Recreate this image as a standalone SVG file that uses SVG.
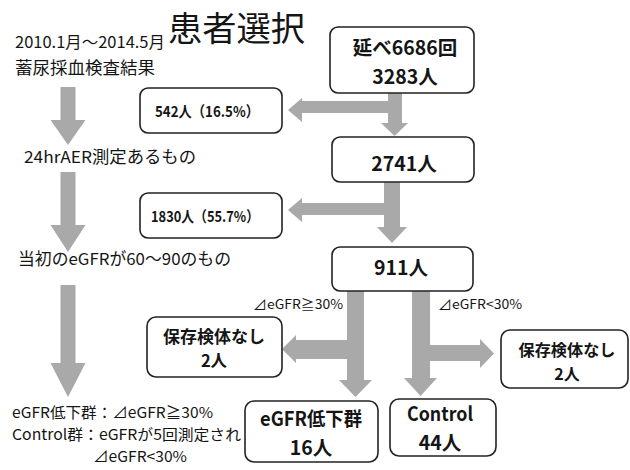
<svg xmlns="http://www.w3.org/2000/svg" width="630" height="470" viewBox="0 0 630 470">
<style>
text{font-family:"Noto Sans CJK JP","Noto Sans",sans-serif;fill:#151515}
.box{fill:#fff;stroke:#222;stroke-width:1.6}
.b{font-weight:bold}
.arr{fill:#a9a9a9}
</style>
<rect width="630" height="470" fill="#fff"/>
<text x="168" y="41" font-size="34" textLength="137" lengthAdjust="spacingAndGlyphs">患者選択</text>
<text x="15" y="48" font-size="15.5" textLength="150" lengthAdjust="spacingAndGlyphs">2010.1月～2014.5月</text>
<text x="15" y="74" font-size="16.5" textLength="140" lengthAdjust="spacingAndGlyphs">蓄尿採血検査結果</text>
<text x="24" y="163" font-size="16.5" textLength="172" lengthAdjust="spacingAndGlyphs">24hrAER測定あるもの</text>
<text x="18" y="265" font-size="16.5" textLength="213" lengthAdjust="spacingAndGlyphs">当初のeGFRが60～90のもの</text>
<text x="12" y="418" font-size="15" textLength="201" lengthAdjust="spacingAndGlyphs">eGFR低下群：⊿eGFR≧30%</text>
<text x="12" y="440" font-size="15" textLength="229" lengthAdjust="spacingAndGlyphs">Control群：eGFRが5回測定され</text>
<text x="93" y="462" font-size="15" textLength="94" lengthAdjust="spacingAndGlyphs">⊿eGFR&lt;30%</text>
<text x="253" y="309" font-size="13" textLength="90" lengthAdjust="spacingAndGlyphs">⊿eGFR≧30%</text>
<text x="438" y="309" font-size="13" textLength="84" lengthAdjust="spacingAndGlyphs">⊿eGFR&lt;30%</text>
<g id="connectors" class="arr">
<polygon points="60.5,87 75.5,87 75.5,120 85.5,120 68,145 50.5,120 60.5,120"/>
<polygon points="60.5,172 75.5,172 75.5,225 85.5,225 68,252 50.5,225 60.5,225"/>
<polygon points="60.5,285 75.5,285 75.5,363 85.5,363 68,397 50.5,363 60.5,363"/>
<polygon points="388,93 402,93 402,123 408,123 394.5,136 381,123 388,123 388,113 302,113 302,122 288,110 302,98 302,101 388,101"/>
<polygon points="384,182 400,182 400,227 407,227 392,243 377,227 384,227 384,215 302,215 302,222 288,210 302,198 302,203 384,203"/>
<polygon points="347,291 364,291 364,380 372,380 355.5,397 339,380 347,380 347,359 296,359 296,363 282,349 296,335 296,340 347,340"/>
<polygon points="412,291 430,291 430,345 480,345 480,339 494,353.5 480,368 480,361 430,361 430,378 437,378 420.5,396 404,378 412,378"/>
</g>
<g id="n1"><rect class="box" x="330" y="27" width="144" height="66" rx="8"/>
<text class="b" x="405" y="55" font-size="19.5" text-anchor="middle">延べ6686回</text>
<text class="b" x="405" y="84" font-size="19.5" text-anchor="middle">3283人</text></g>
<g id="n542"><rect class="box" x="140" y="88" width="142" height="45" rx="8"/>
<text class="b" x="207" y="117" font-size="15" text-anchor="middle" textLength="104" lengthAdjust="spacingAndGlyphs">542人（16.5%）</text></g>
<g id="n2741"><rect class="box" x="332" y="137" width="142" height="45" rx="8"/>
<text class="b" x="404" y="171" font-size="19.5" text-anchor="middle">2741人</text></g>
<g id="n1830"><rect class="box" x="140" y="193" width="142" height="45" rx="8"/>
<text class="b" x="205" y="222" font-size="15" text-anchor="middle" textLength="108" lengthAdjust="spacingAndGlyphs">1830人（55.7%）</text></g>
<g id="n911"><rect class="box" x="332" y="247" width="141" height="44" rx="8"/>
<text class="b" x="401" y="275" font-size="19.5" text-anchor="middle">911人</text></g>
<g id="nL"><rect class="box" x="147" y="317" width="135" height="60" rx="9"/>
<text class="b" x="214" y="343" font-size="16.5" text-anchor="middle" textLength="102" lengthAdjust="spacingAndGlyphs">保存検体なし</text>
<text class="b" x="214" y="367" font-size="16.5" text-anchor="middle">2人</text></g>
<g id="nR"><rect class="box" x="501" y="330" width="127" height="58" rx="9"/>
<text class="b" x="567" y="356" font-size="16" text-anchor="middle" textLength="97" lengthAdjust="spacingAndGlyphs">保存検体なし</text>
<text class="b" x="567" y="380" font-size="16" text-anchor="middle">2人</text></g>
<g id="nD"><rect class="box" x="245" y="401" width="133" height="61" rx="9"/>
<text class="b" x="311" y="426" font-size="19.5" text-anchor="middle" textLength="102" lengthAdjust="spacingAndGlyphs">eGFR低下群</text>
<text class="b" x="311" y="455" font-size="19.5" text-anchor="middle">16人</text></g>
<g id="nC"><rect class="box" x="390" y="399" width="106" height="57" rx="9"/>
<text class="b" x="440" y="421" font-size="19.5" text-anchor="middle" textLength="66" lengthAdjust="spacingAndGlyphs">Control</text>
<text class="b" x="440" y="450" font-size="19.5" text-anchor="middle">44人</text></g>
</svg>
